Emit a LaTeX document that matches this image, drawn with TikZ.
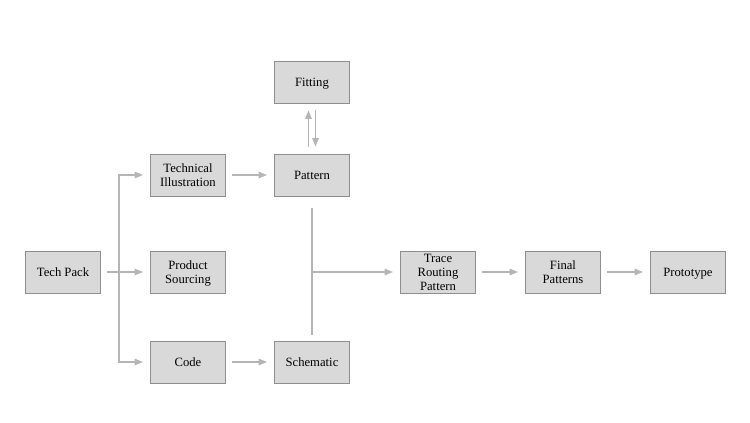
\documentclass[tikz,border=0pt]{standalone}
\usepackage{fontspec}
\setmainfont{Liberation Serif}
\usetikzlibrary{arrows.meta, calc}

\definecolor{boxfill}{HTML}{D9D9D9}
\definecolor{boxline}{HTML}{8E8E8E}
\definecolor{linkgray}{HTML}{B5B5B5}

\begin{document}
\begin{tikzpicture}[x=0.025cm, y=-0.025cm,
    font=\fontsize{9}{10}\selectfont,
    stage/.style={draw=boxline, fill=boxfill, line width=0.6pt, minimum width=1.875cm, minimum height=1.05cm, inner sep=0pt, align=center, text depth=0pt},
    link/.style={draw=linkgray, line width=1pt},
    flow/.style={link, -{Triangle[length=6pt, width=4.6pt]}, shorten <=4.5pt, shorten >=5pt}]
    \useasboundingbox (0,0) rectangle (750,422);

    \coordinate (R0) at (0,82);
    \coordinate (R1) at (0,175);
    \coordinate (R2) at (0,272);
    \coordinate (R3) at (0,362);

    \node[stage] (techpack) at ($ (R2) + (63,0) $) {Tech Pack};
    \node[stage] (illustration) at ($ (R1) + (188,0) $) {Technical\\Illustration};
    \node[stage] (sourcing) at ($ (R2) + (188,0) $) {Product\\Sourcing};
    \node[stage] (code) at ($ (R3) + (188,0) $) {Code};
    \node[stage] (fitting) at ($ (R0) + (312,0) $) {Fitting};
    \node[stage] (pattern) at ($ (R1) + (312,0) $) {Pattern};
    \node[stage] (schematic) at ($ (R3) + (312,0) $) {Schematic};
    \node[stage] (trace) at ($ (R2) + (438,0) $) {Trace\\Routing\\Pattern};
    \node[stage] (final) at ($ (R2) + (563,0) $) {Final\\Patterns};
    \node[stage] (prototype) at ($ (R2) + (688,0) $) {Prototype};

    \coordinate (split) at ($ (techpack.east) + (18,0) $);
    \coordinate (merge) at (pattern.south |- trace.west);

    \draw[link, shorten <=4.5pt] (techpack.east) -- (split);
    \draw[flow, shorten <=0pt] (split) |- (illustration.west);
    \draw[flow, shorten <=0pt] (split) -- (sourcing.west);
    \draw[flow, shorten <=0pt] (split) |- (code.west);

    \draw[flow] (illustration) -- (pattern);
    \draw[flow] (code) -- (schematic);

    \draw[flow] ([xshift=-2.5pt]pattern.north) -- ([xshift=-2.5pt]fitting.south);
    \draw[flow] ([xshift=2.5pt]fitting.south) -- ([xshift=2.5pt]pattern.north);

    \draw[link, shorten <=8pt, shorten >=4pt] (pattern.south) -- (schematic.north);
    \draw[flow, shorten <=0pt] (merge) -- (trace.west);

    \draw[flow] (trace) -- (final);
    \draw[flow] (final) -- (prototype);
  \end{tikzpicture}
\end{document}
